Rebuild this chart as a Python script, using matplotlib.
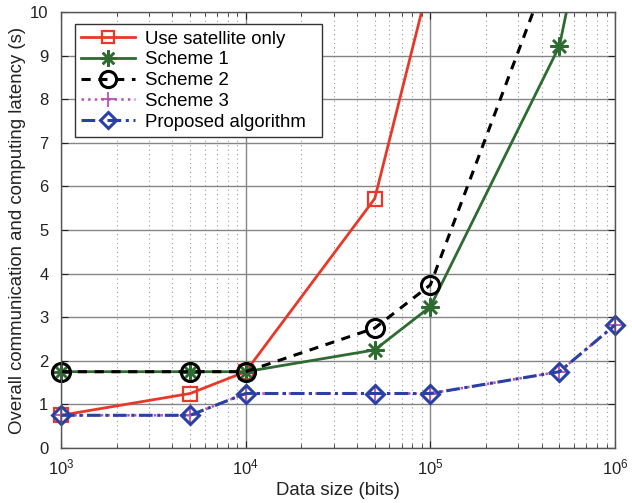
import numpy as np
import matplotlib
matplotlib.use("Agg")
import matplotlib.pyplot as plt
from matplotlib.ticker import LogLocator, FixedLocator, NullFormatter
from matplotlib.transforms import Bbox, TransformedBbox

plt.rcParams['font.family'] = ['Liberation Sans', 'DejaVu Sans']
plt.rcParams['mathtext.default'] = 'regular'

# Data
data_size = [1e3, 5e3, 1e4, 5e4, 1e5, 5e5, 1e6]
sat_only = [0.75, 1.25, 1.75, 5.72, 10.8]
scheme1 = [1.75, 1.75, 1.75, 2.25, 3.24, 9.22, 15.4]
scheme2 = [1.75, 1.75, 1.75, 2.75, 3.74, 11.6]
scheme3 = [0.75, 0.75, 1.25, 1.25, 1.25, 1.75, 2.82]
proposed = [0.75, 0.75, 1.25, 1.25, 1.25, 1.75, 2.82]
labels = ['Use satellite only', 'Scheme 1', 'Scheme 2', 'Scheme 3',
          'Proposed algorithm  ']

fig = plt.figure(figsize=(6.32, 5.03), dpi=100)
ax = fig.add_axes([61 / 632, 55 / 503, 554 / 632, 436 / 503])

# clip only at top/bottom so that markers on the x limits stay whole
clip = TransformedBbox(Bbox([[-0.1, 0], [1.1, 1]]), ax.transAxes)

lines = []
lines += ax.plot(data_size[:len(sat_only)], sat_only, '-s', color='#e8382a', lw=2,
                 ms=9.5, mfc='none', mew=1.6, label=labels[0])
lines += ax.plot(data_size, scheme1, '-', marker=(8, 2, 0), color='#2e6b31', lw=2,
                 ms=13, mew=1.8, label=labels[1])
lines += ax.plot(data_size[:len(scheme2)], scheme2, '--o', color='black', lw=2.2,
                 ms=13, mfc='none', mew=2.2, dashes=(3, 2.5), label=labels[2])
lines += ax.plot(data_size, scheme3, ':+', color='#b94fb8', lw=1.8, ms=12,
                 mew=1.3, label=labels[3])
lines += ax.plot(data_size, proposed, '-.D', color='#2b40a3', lw=2.2, ms=9.5,
                 mfc='none', mew=2.2, dashes=(4.5, 1.5, 1, 1.5),
                 label=labels[4])
for ln in lines:
    ln.set_clip_box(clip)

ax.set_xscale('log')
ax.set_xlim(1e3, 1e6)
ax.set_ylim(0, 10)
ax.yaxis.set_major_locator(FixedLocator(np.arange(0, 11, 1)))
ax.xaxis.set_minor_locator(LogLocator(base=10, subs=np.arange(2, 10), numticks=20))
ax.xaxis.set_minor_formatter(NullFormatter())

ax.grid(True, which='major', color='#858585', lw=1.0, ls='-')
ax.grid(True, which='minor', axis='x', color='#9a9a9a', lw=0.8, ls=(0, (1, 3)))
ax.set_axisbelow(True)

ax.tick_params(which='both', direction='in', top=True, right=True,
               labelsize=12, colors='#222222')
ax.tick_params(axis='x', which='major', pad=7)
ax.tick_params(axis='y', which='major', pad=9)
ax.tick_params(which='major', length=5)
ax.tick_params(which='minor', length=3)
for s in ax.spines.values():
    s.set_color('#555555')
    s.set_linewidth(1.0)

ax.set_xlabel('Data size (bits)', fontsize=13.4, color='#222222', labelpad=3)
ax.set_ylabel('Overall communication and computing latency (s)', fontsize=13.4,
              color='#222222', labelpad=3)

leg = ax.legend(loc='upper left', bbox_to_anchor=(0.025, 0.972), fontsize=13.4,
                handlelength=2.9, borderpad=0.35, labelspacing=0.2,
                handletextpad=0.5, fancybox=False, framealpha=1,
                borderaxespad=0, markerscale=0.9)
leg.get_frame().set_edgecolor('#333333')
leg.get_frame().set_linewidth(1.0)

fig.savefig('out.png', dpi=100)
